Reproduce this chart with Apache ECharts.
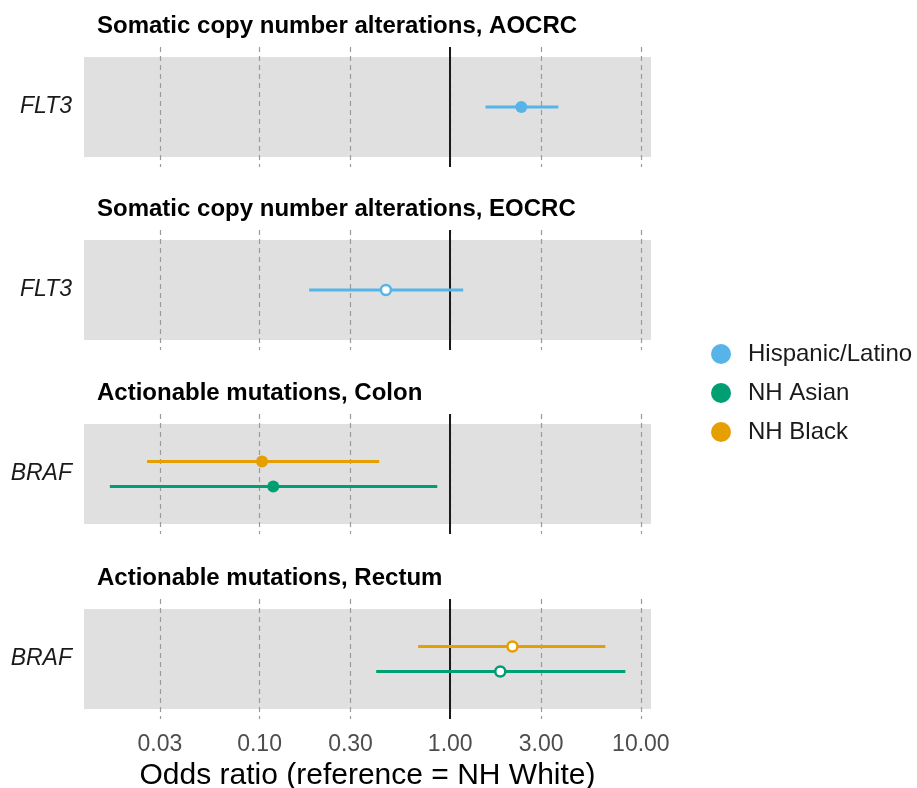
<!DOCTYPE html>
<html><head><meta charset="utf-8">
<script src="https://cdn.jsdelivr.net/npm/echarts@6/dist/echarts.min.js"></script>
<style>html,body{margin:0;padding:0;background:#fff}#c{width:917px;height:788px}</style>
</head><body><div id="c"></div>
<script>
// ---- data ----
const panelTitles = [
  'Somatic copy number alterations, AOCRC',
  'Somatic copy number alterations, EOCRC',
  'Actionable mutations, Colon',
  'Actionable mutations, Rectum'
];
const panelGenes = ['FLT3', 'FLT3', 'BRAF', 'BRAF'];
const groups = ['Hispanic/Latino', 'NH Asian', 'NH Black'];
const groupColors = ['#56B4E9', '#009E73', '#E69F00'];
const tickValues = [0.03, 0.1, 0.3, 1, 3, 10];
const tickLabels = ['0.03', '0.10', '0.30', '1.00', '3.00', '10.00'];
const estPanel = [0, 1, 2, 2, 3, 3];
const estGroup = ['Hispanic/Latino', 'Hispanic/Latino', 'NH Black', 'NH Asian', 'NH Black', 'NH Asian'];
const estOR   = [2.36, 0.46, 0.103, 0.118, 2.12, 1.83];
const estLow  = [1.53, 0.182, 0.0257, 0.0164, 0.679, 0.409];
const estHigh = [3.69, 1.17, 0.424, 0.855, 6.51, 8.29];
const estFilled = [true, false, true, true, false, false];
const xMin = 0.012, xMax = 11.3;

// ---- layout ----
const FONT = 'Liberation Sans';
const gridTops = [47, 230, 414, 599];
const dodge = {'Hispanic/Latino': 0, 'NH Asian': -1.25, 'NH Black': 1.25};
const colorOf = g => groupColors[groups.indexOf(g)];

const grids = [], xAxes = [], yAxes = [], titles = [], series = [];
panelTitles.forEach((t, p) => {
  grids.push({left: 84, width: 567, top: gridTops[p], height: 120, containLabel: false, outerBoundsMode: 'none'});
  titles.push({text: t, left: 97, top: gridTops[p] - 33, padding: 0,
    textStyle: {fontFamily: FONT, fontSize: 24, fontWeight: 'bold', color: '#000'}});
  const bottom = p === panelTitles.length - 1;
  xAxes.push({
    type: 'log', logBase: 10, gridIndex: p, min: xMin, max: xMax, z: 3,
    axisLine: {show: false},
    axisTick: {show: false, customValues: tickValues},
    axisLabel: {show: bottom, customValues: tickValues, margin: 14,
      fontFamily: FONT, fontSize: 23, color: '#4d4d4d',
      formatter: v => { const i = tickValues.findIndex(t => Math.abs(t - v) / t < 1e-6); return i >= 0 ? tickLabels[i] : ''; }},
    splitLine: {show: true, lineStyle: {color: '#9a9a9a', width: 1.2, type: [5, 4]}},
    name: bottom ? 'Odds ratio (reference = NH White)' : '',
    nameLocation: 'middle', nameGap: 42,
    nameTextStyle: {fontFamily: FONT, fontSize: 30, color: '#000'}
  });
  yAxes.push({
    type: 'value', gridIndex: p, min: 0, max: 12, interval: 6,
    axisLine: {show: false}, axisTick: {show: false}, splitLine: {show: false},
    axisLabel: {margin: 12, fontFamily: FONT, fontSize: 23, fontStyle: 'italic', color: '#1a1a1a',
      formatter: v => v === 6 ? panelGenes[p] : ''}
  });
  // grey panel + reference line
  series.push({
    type: 'line', xAxisIndex: p, yAxisIndex: p, data: [], silent: true, z: 1,
    markArea: {silent: true, itemStyle: {color: '#e0e0e0'}, data: [[{yAxis: 1}, {yAxis: 11}]]}
  });
  series.push({
    type: 'line', xAxisIndex: p, yAxisIndex: p, data: [], silent: true, z: 4,
    markLine: {silent: true, symbol: ['none', 'none'], label: {show: false},
      lineStyle: {color: '#1a1a1a', width: 2, type: 'solid'}, data: [{xAxis: 1}]}
  });
});

estOR.forEach((or, i) => {
  const p = estPanel[i], g = estGroup[i], c = colorOf(g);
  const y = 6 + dodge[g];
  series.push({
    name: g, type: 'line', xAxisIndex: p, yAxisIndex: p, z: 5, silent: true,
    showSymbol: false, symbol: 'none', lineStyle: {color: c, width: 2.8}, itemStyle: {color: c},
    data: [[estLow[i], y], [estHigh[i], y]]
  });
  series.push({
    name: g, type: 'scatter', xAxisIndex: p, yAxisIndex: p, z: 6, silent: true,
    symbol: 'circle', symbolSize: estFilled[i] ? 12 : 10,
    itemStyle: {color: estFilled[i] ? c : '#ffffff', borderColor: c, borderWidth: estFilled[i] ? 0 : 2.5, opacity: 1},
    data: [[or, y]]
  });
});

const chart = echarts.init(document.getElementById('c'), null, {renderer: 'canvas'});
chart.setOption({
  animation: false,
  backgroundColor: '#ffffff',
  title: titles,
  grid: grids, xAxis: xAxes, yAxis: yAxes,
  legend: {
    orient: 'vertical', left: 706, top: 337, selectedMode: false,
    itemWidth: 20, itemHeight: 20, itemGap: 15,
    textStyle: {fontFamily: FONT, fontSize: 24, color: '#1a1a1a', padding: [0, 0, 0, 12]},
    data: groups.map((g, k) => ({name: g, icon: 'circle', itemStyle: {color: groupColors[k], borderWidth: 0}}))
  },
  series: series
});
</script></body></html>
